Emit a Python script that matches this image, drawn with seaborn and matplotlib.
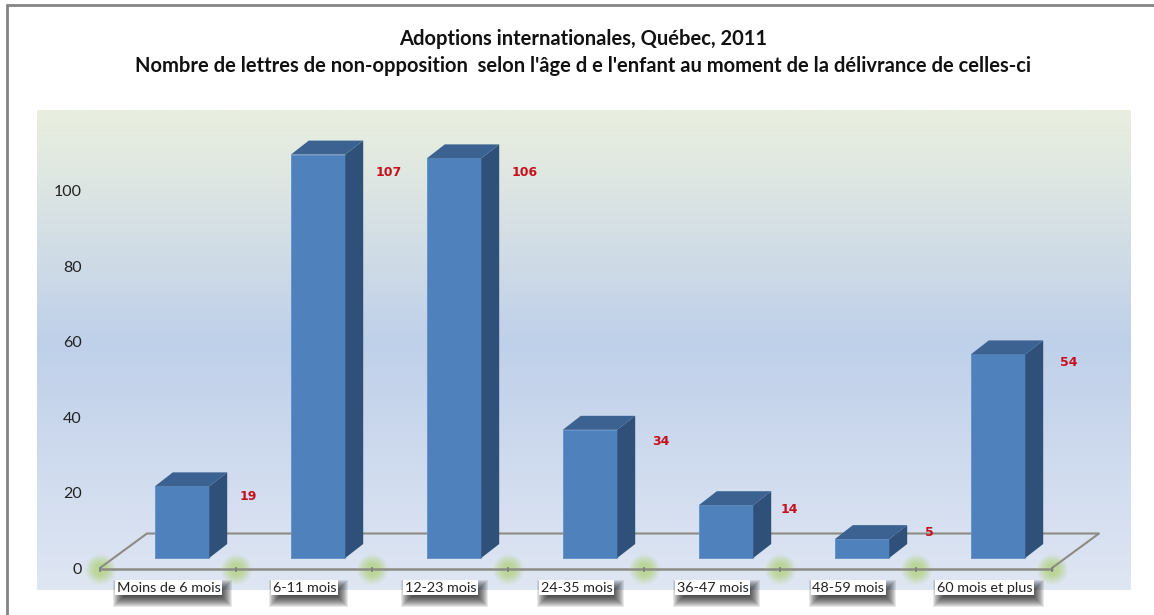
# Adoptions internationales, Québec, 2011 - lettres de non-opposition selon l'âge

import numpy as np
import seaborn as sns
import matplotlib.pyplot as plt
from matplotlib.colors import LinearSegmentedColormap
from matplotlib.lines import Line2D
from matplotlib.patches import Polygon, Rectangle
from matplotlib.transforms import IdentityTransform

# donnees
categories = ["Moins de 6 mois", "6-11 mois", "12-23 mois", "24-35 mois",
              "36-47 mois", "48-59 mois", "60 mois et plus"]
valeurs = [19, 107, 106, 34, 14, 5, 54]
y_ticks = [0, 20, 40, 60, 80, 100]

W, H = 1154, 615
FOND = [(0.0, "#dfe6f3"), (0.52, "#bfd0ea"), (0.82, "#dbe4e3"), (1.0, "#e9efdf")]

sns.set_theme(style="white")
plt.rcParams["font.family"] = ["Lato", "DejaVu Sans"]

fig = plt.figure(figsize=(W / 100, H / 100), dpi=100, facecolor="white")
# zone du graphique : x 37-1131, y 110-590 en pixels
ax = fig.add_axes([37 / W, 1 - 590 / H, (1131 - 37) / W, (590 - 110) / H])

sns.barplot(x=categories, y=valeurs, color="#4f81bd", width=0.4, saturation=1,
            edgecolor="#5f8fc8", linewidth=0.6, ax=ax, zorder=4)

# fond degrade
cmap = LinearSegmentedColormap.from_list("fond", FOND)
ax.imshow(np.linspace(0, 1, 256).reshape(-1, 1), cmap=cmap, origin="lower", aspect="auto",
          extent=[0, 1, 0, 1], transform=ax.transAxes, zorder=0)

# echelle : 136 px par categorie, 3.77 px par unite
ax.set_xlim((37 - 182) / 136, (1131 - 182) / 136)
ax.set_ylim((568 - 590) / 3.77, (568 - 110) / 3.77)

# faux 3D
dx, dy = 18 / 136, 14 / 3.77
lift = 10 / 3.77
for bar, v in zip(ax.patches, valeurs):
    bar.set_y(lift)
    x0, x1 = bar.get_x(), bar.get_x() + bar.get_width()
    y0, y1 = lift, lift + v
    ax.add_patch(Polygon([(x1, y0), (x1 + dx, y0 + dy), (x1 + dx, y1 + dy), (x1, y1)],
                         facecolor="#2f5078", edgecolor="none", zorder=4))
    ax.add_patch(Polygon([(x0, y1), (x0 + dx, y1 + dy), (x1 + dx, y1 + dy), (x1, y1)],
                         facecolor="#3b6291", edgecolor="none", zorder=4))

# plancher
n = len(categories)
gauche = -0.603
droite = gauche + n
prof_x, prof_y = 47 / 136, 34.5 / 3.77
gris = "#8c8c84"
ax.plot([gauche, gauche + prof_x, droite + prof_x, droite], [0, prof_y, prof_y, 0],
        color=gris, lw=1.5, zorder=3, solid_capstyle="round")
ax.plot([gauche, droite], [-0.2, -0.2], color=gris, lw=1.8, zorder=3)

# halos verts sur les graduations
pos_grad = gauche + np.arange(n + 1)
for taille, alpha in [(480, 0.1), (360, 0.13), (260, 0.16), (170, 0.2), (90, 0.22)]:
    ax.scatter(pos_grad, np.full(n + 1, -0.2), s=taille, color="#a6cf5a", alpha=alpha,
               linewidths=0, zorder=2, clip_on=False)
ax.vlines(pos_grad, -1.0, 0.3, color="#7f7f7f", lw=1.2, zorder=3)

# etiquettes de valeurs
decal_y = {107: -2.2, 106: -1.0, 34: -0.5, 14: 1.6, 5: 4.3, 54: 0.6}
decal_x = {34: 4, 14: -3, 5: 5, 54: 4}
for i, v in enumerate(valeurs):
    ax.text(i + (58 + decal_x.get(v, 0)) / 136, v + decal_y.get(v, 0), str(v), color="#c8101c",
            fontsize=9, fontweight="bold", family="DejaVu Sans", ha="left", va="center", zorder=5)

# axes
ax.set_yticks(y_ticks)
ax.set_xticks(np.arange(n) - 0.1, categories)
ax.tick_params(axis="y", length=0, pad=-32.4, labelsize=11.5, labelcolor="#222222")
ax.tick_params(axis="x", length=0, pad=-6, labelsize=10.4, labelcolor="#222222")
for lab in ax.get_xticklabels():
    lab.set_bbox(dict(facecolor="white", edgecolor="none", pad=1))
ax.set_axisbelow(False)
sns.despine(ax=ax, left=True, bottom=True)
ax.grid(False)

# ombres portees sous les etiquettes
fig.canvas.draw()
for lab in ax.get_xticklabels():
    bb = lab.get_bbox_patch().get_window_extent()
    for k in range(12):
        marge = k - 5
        ax.add_patch(Rectangle((bb.x0 + 4 - marge, bb.y0 - 6 - marge), bb.width + 2 * marge,
                               bb.height + 2 * marge, transform=IdentityTransform(),
                               facecolor="black", edgecolor="none", alpha=0.09, zorder=1.5,
                               clip_on=False))

# titre
fig.suptitle("Adoptions internationales, Québec, 2011\n"
             "Nombre de lettres de non-opposition  selon l'âge d e l'enfant au moment de la délivrance de celles-ci",
             x=583 / W, y=1 - 52.5 / H, va="center", fontsize=14.5, fontweight="bold",
             color="#111111", linespacing=1.4)

# cadre exterieur
fig.add_artist(Line2D([7 / W, 7 / W], [0, 1 - 5 / H], color="#858585", lw=2))
fig.add_artist(Line2D([7 / W, 1], [1 - 5 / H, 1 - 5 / H], color="#858585", lw=2))

fig.savefig("out.png", dpi=100)
